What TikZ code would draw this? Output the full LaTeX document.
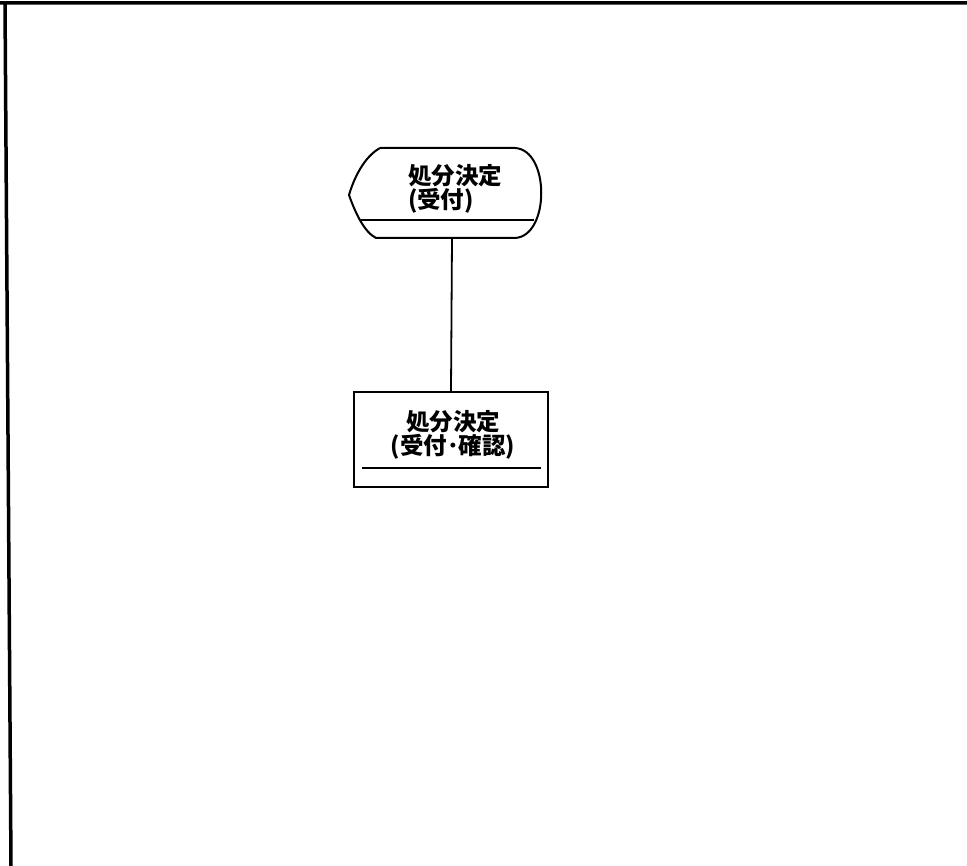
\documentclass[tikz,border=0pt]{standalone}
\usepackage{fontspec}
\newfontfamily\jp{Noto Sans CJK JP}
\begin{document}
\begin{tikzpicture}[x=1pt,y=-1pt,font=\jp\bfseries\fontsize{23.5}{22}\selectfont]
	\useasboundingbox (0,0) rectangle (967,866);
		\draw[line width=3.5pt] (0,3) -- (967,3) (5,3) -- (11,866);
		\draw[line width=2pt] (380,148) -- (515,148) .. controls (550,150) and (550,236) .. (515,238) -- (376,238) .. controls (364,232) and (355,212) .. (349,195) .. controls (354,178) and (364,157) .. (380,148);
		\draw[line width=1.8pt] (361,220) -- (534,220);
		\node[align=left] (anzeige) at (455,189) {処分決定\\(受付)};
		\coordinate (anzeigefuss) at (452,238);
		\node[draw,line width=1.8pt,minimum width=194pt,minimum height=95pt] (pruefung) at (451,439.5) {};
		\node[align=center] (pruefungtext) at (453,435) {処分決定\\(受付･確認)};
		\draw[line width=2.4pt] ([xshift=9pt,yshift=20pt]pruefung.south west) -- ([xshift=-8pt,yshift=20pt]pruefung.south east);
		\draw[line width=1.8pt] (anzeigefuss) -- (pruefung.north);
	\end{tikzpicture}
\end{document}
